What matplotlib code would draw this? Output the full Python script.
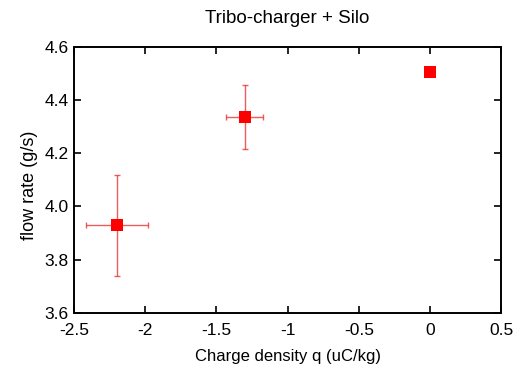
import matplotlib
matplotlib.use("Agg")
import matplotlib.pyplot as plt

plt.rcParams['font.family'] = ['Liberation Sans', 'DejaVu Sans']

charge = [-2.2, -1.3, 0.0]
flow = [3.93, 4.335, 4.505]
charge_err = [0.22, 0.13, 0.0]
flow_err = [0.19, 0.12, 0.0]

x_ticks = [-2.5, -2, -1.5, -1, -0.5, 0, 0.5]
x_ticklabels = ['-2.5', '-2', '-1.5', '-1', '-0.5', '0', '0.5']
y_ticks = [3.6, 3.8, 4.0, 4.2, 4.4, 4.6]
y_ticklabels = ['3.6', '3.8', '4.0', '4.2', '4.4', '4.6']

fig = plt.figure(figsize=(5.22, 3.72), dpi=100)
ax = fig.add_axes([0.142, 0.159, 0.818, 0.715])

ax.errorbar(charge, flow, xerr=charge_err, yerr=flow_err, fmt='none',
            ecolor=(0.9, 0.2, 0.2), elinewidth=1.0, capsize=2.5, capthick=1.0, alpha=0.8)
ax.plot(charge, flow, 's', color='#ff0000', markersize=8.5, markeredgewidth=0)

ax.set_xlim(-2.5, 0.5)
ax.set_ylim(3.6, 4.6)
ax.set_xticks(x_ticks)
ax.set_xticklabels(x_ticklabels)
ax.set_yticks(y_ticks)
ax.set_yticklabels(y_ticklabels)
ax.tick_params(direction='in', length=5, width=1.2, labelsize=12.5, top=True, right=True)
ax.tick_params(axis='x', pad=7)
ax.tick_params(axis='y', pad=4)
for s in ax.spines.values():
    s.set_linewidth(1.4)

ax.set_xlabel('Charge density q (uC/kg)', fontsize=12, labelpad=8)
ax.set_ylabel('flow rate (g/s)', fontsize=13)
ax.yaxis.set_label_coords(-0.085, 0.48)
ax.set_title('Tribo-charger + Silo', fontsize=13.5, pad=17)

fig.savefig('out.png', dpi=100)
